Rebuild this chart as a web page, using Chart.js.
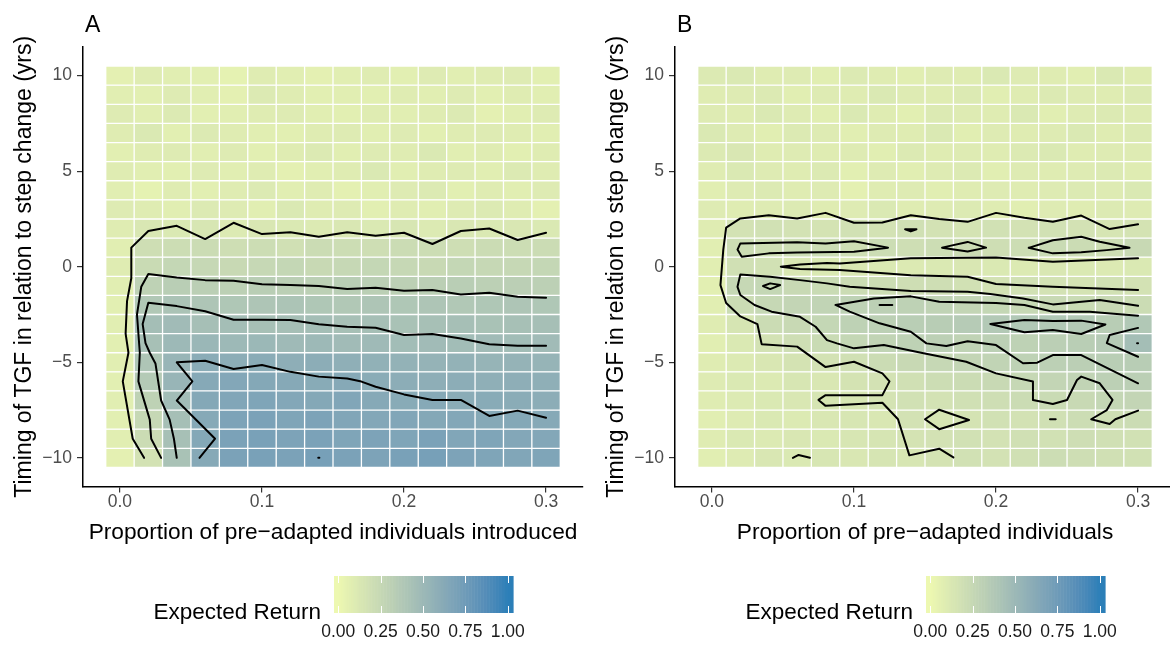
<!DOCTYPE html>
<html>
<head>
<meta charset="utf-8">
<script src="https://cdn.jsdelivr.net/npm/chart.js@4"></script>
<style>
  html, body { margin: 0; padding: 0; background: #fff; overflow: hidden; }
  body { width: 1170px; height: 648px; position: relative; }
  canvas { position: absolute; top: 0; }
  #chartA { left: 0; }
  #chartB { left: 592px; }
</style>
</head>
<body>
<canvas id="chartA" width="590" height="648"></canvas>
<canvas id="chartB" width="590" height="648"></canvas>
<script>
// Expected return heatmaps with contour lines

// tile centres
const proportions = [0, 0.02, 0.04, 0.06, 0.08, 0.1, 0.12, 0.14, 0.16, 0.18, 0.2, 0.22, 0.24, 0.26, 0.28, 0.3];
const timings = [10, 9, 8, 7, 6, 5, 4, 3, 2, 1, 0, -1, -2, -3, -4, -5, -6, -7, -8, -9, -10];

// expected return, one row per timing (top to bottom), one value per proportion
const returnA = [
  [.06, .09, .08, .07, .05, .09, .08, .06, .08, .09, .07, .10, .08, .09, .10, .07],
  [.08, .07, .10, .08, .06, .11, .09, .07, .08, .07, .09, .08, .10, .07, .09, .08],
  [.10, .08, .11, .07, .08, .09, .10, .08, .07, .09, .08, .09, .11, .06, .08, .10],
  [.09, .12, .07, .11, .09, .08, .07, .09, .10, .08, .10, .07, .09, .10, .09, .08],
  [.07, .09, .10, .08, .10, .07, .09, .11, .08, .10, .09, .12, .08, .09, .07, .09],
  [.09, .08, .07, .10, .08, .09, .06, .08, .09, .12, .08, .09, .10, .08, .11, .09],
  [.08, .05, .09, .07, .09, .11, .08, .09, .06, .08, .10, .11, .07, .09, .08, .10],
  [.10, .09, .08, .11, .10, .08, .12, .09, .10, .07, .09, .08, .10, .11, .09, .06],
  [.09, .13, .12, .14, .11, .13, .12, .11, .13, .12, .14, .11, .13, .12, .13, .12],
  [.08, .20, .21, .22, .20, .21, .19, .22, .21, .20, .22, .21, .20, .22, .21, .22],
  [.09, .23, .26, .25, .24, .25, .26, .24, .25, .26, .25, .24, .26, .25, .25, .26],
  [.08, .30, .33, .32, .31, .33, .32, .31, .33, .32, .31, .32, .33, .31, .32, .31],
  [.07, .38, .42, .40, .39, .40, .41, .39, .38, .40, .39, .40, .38, .39, .40, .39],
  [.08, .46, .48, .45, .46, .44, .45, .46, .44, .45, .43, .44, .45, .43, .44, .45],
  [.07, .44, .50, .52, .50, .51, .49, .50, .48, .49, .47, .48, .47, .48, .47, .48],
  [.08, .40, .53, .61, .60, .61, .59, .60, .58, .57, .56, .55, .56, .54, .55, .54],
  [.07, .36, .53, .63, .65, .64, .63, .62, .63, .61, .60, .59, .60, .58, .59, .58],
  [.08, .30, .47, .64, .66, .67, .65, .64, .66, .63, .62, .63, .61, .62, .61, .60],
  [.07, .25, .45, .63, .68, .69, .67, .68, .66, .65, .66, .64, .65, .63, .64, .63],
  [.08, .22, .44, .64, .69, .70, .68, .69, .67, .68, .67, .69, .66, .67, .65, .65],
  [.06, .17, .43, .63, .69, .70, .69, .71, .69, .68, .70, .71, .68, .67, .66, .67]
];

const returnB = [
  [.11, .12, .09, .10, .08, .11, .09, .08, .10, .09, .12, .10, .09, .08, .12, .09],
  [.09, .10, .11, .08, .10, .09, .12, .10, .09, .11, .08, .09, .11, .10, .09, .11],
  [.10, .09, .12, .10, .08, .12, .09, .07, .11, .10, .09, .12, .08, .10, .11, .10],
  [.12, .10, .08, .11, .10, .08, .10, .09, .12, .08, .10, .09, .10, .12, .09, .11],
  [.11, .13, .09, .10, .09, .10, .08, .11, .09, .10, .09, .11, .12, .09, .10, .10],
  [.09, .12, .10, .09, .11, .07, .10, .08, .10, .11, .08, .10, .09, .10, .11, .09],
  [.08, .10, .11, .09, .10, .06, .09, .10, .08, .09, .10, .09, .10, .11, .10, .12],
  [.10, .09, .10, .11, .09, .10, .12, .09, .10, .11, .09, .08, .10, .09, .11, .10],
  [.09, .17, .18, .17, .16, .18, .17, .19, .17, .16, .18, .17, .18, .17, .15, .16],
  [.08, .21, .20, .21, .22, .20, .21, .20, .21, .22, .20, .21, .23, .22, .20, .24],
  [.08, .19, .18, .13, .12, .13, .12, .11, .12, .13, .12, .11, .13, .12, .11, .12],
  [.07, .25, .26, .24, .23, .22, .21, .20, .20, .18, .17, .18, .17, .16, .18, .17],
  [.08, .22, .25, .27, .28, .30, .31, .30, .29, .27, .26, .25, .24, .23, .24, .22],
  [.09, .15, .22, .24, .26, .30, .31, .33, .34, .35, .37, .38, .38, .37, .34, .38],
  [.08, .12, .17, .20, .23, .26, .28, .30, .31, .29, .31, .30, .32, .33, .35, .46],
  [.09, .11, .13, .16, .17, .19, .22, .24, .25, .27, .28, .30, .31, .32, .33, .34],
  [.10, .12, .11, .14, .13, .16, .17, .19, .21, .22, .24, .25, .27, .28, .31, .32],
  [.09, .11, .12, .13, .15, .14, .16, .18, .17, .19, .20, .22, .23, .24, .26, .27],
  [.08, .10, .12, .11, .13, .14, .13, .17, .15, .16, .18, .17, .19, .21, .20, .22],
  [.09, .12, .11, .13, .12, .14, .15, .16, .17, .18, .17, .19, .18, .20, .19, .18],
  [.08, .10, .13, .12, .14, .13, .15, .14, .16, .18, .17, .19, .21, .20, .19, .18]
];

// contour polylines, [proportion, timing]
const contoursA = [
  [[0.017, -10], [0.009, -9], [0.002, -6], [0.006, -4.5], [0.004, -3.5], [0.005, -1.8], [0.008, -0.6], [0.008, 0], [0.008, 1],
   [0.02, 1.87], [0.04, 2.14], [0.06, 1.45], [0.08, 2.3], [0.1, 1.71], [0.12, 1.81], [0.14, 1.57], [0.16, 1.8], [0.18, 1.62],
   [0.2, 1.78], [0.22, 1.19], [0.24, 1.87], [0.26, 2.0], [0.28, 1.4], [0.3, 1.78]],
  [[0.029, -10], [0.022, -9], [0.021, -8], [0.013, -6], [0.014, -4.5], [0.012, -2.5], [0.015, -1.05], [0.02, -0.38],
   [0.04, -0.56], [0.06, -0.7], [0.08, -0.73], [0.1, -0.92], [0.12, -0.96], [0.14, -1.01], [0.16, -1.17], [0.18, -1.1],
   [0.2, -1.25], [0.22, -1.22], [0.24, -1.45], [0.26, -1.36], [0.28, -1.57], [0.3, -1.62]],
  [[0.04, -10], [0.038, -9], [0.035, -8], [0.029, -7], [0.025, -5.06], [0.021, -4.5], [0.018, -4], [0.016, -3], [0.02, -1.88],
   [0.04, -2.06], [0.06, -2.33], [0.08, -2.77], [0.1, -2.77], [0.12, -2.79], [0.14, -3.01], [0.16, -3.14], [0.18, -3.19],
   [0.2, -3.57], [0.22, -3.52], [0.24, -3.75], [0.26, -4.06], [0.28, -4.14], [0.3, -4.14]],
  [[0.056, -10], [0.067, -9], [0.04, -7], [0.051, -6], [0.04, -5], [0.06, -4.92], [0.08, -5.35], [0.1, -5.14], [0.12, -5.5],
   [0.14, -5.75], [0.16, -5.85], [0.17, -6.01], [0.18, -6.28], [0.2, -6.68], [0.22, -6.97], [0.24, -6.97], [0.26, -7.81],
   [0.28, -7.53], [0.3, -7.9]],
  [[0.1396, -10], [0.1404, -10]]
];

const contoursB = [
  [[0.3, 2.22], [0.28, 1.97], [0.26, 2.68], [0.24, 2.35], [0.22, 2.56], [0.2, 2.82], [0.18, 2.35], [0.16, 2.5], [0.14, 2.7],
   [0.12, 2.32], [0.1, 2.3], [0.08, 2.82], [0.06, 2.53], [0.04, 2.7], [0.02, 2.53], [0.01, 2.05], [0.008, 0.9], [0.006, -0.96],
   [0.01, -1.9], [0.02, -2.6], [0.032, -3.0], [0.035, -4.05], [0.06, -4.18], [0.08, -5.25], [0.1, -4.97], [0.12, -5.58],
   [0.125, -6.0], [0.12, -6.72], [0.08, -6.72], [0.075, -6.97], [0.08, -7.28], [0.12, -7.12], [0.131, -7.98], [0.139, -9.87],
   [0.16, -9.52], [0.17, -9.98]],
  [[0.02, 1.22], [0.06, 1.28], [0.08, 1.22], [0.1, 1.33], [0.124, 1.0], [0.1, 0.78], [0.06, 0.75], [0.04, 0.7], [0.021, 0.52],
   [0.018, 0.9], [0.02, 1.22]],
  [[0.162, 1.0], [0.18, 1.3], [0.193, 1.0], [0.18, 0.8], [0.162, 1.0]],
  [[0.223, 0.99], [0.24, 1.39], [0.26, 1.57], [0.273, 1.31], [0.294, 0.99], [0.278, 0.87], [0.26, 0.76], [0.24, 0.7], [0.223, 0.99]],
  [[0.136, 1.96], [0.144, 1.96], [0.14, 1.85], [0.136, 1.96]],
  [[0.3, 0.44], [0.24, 0.26], [0.2, 0.48], [0.14, 0.44], [0.09, 0.17], [0.081, 0.2], [0.062, 0.12], [0.0485, 0], [0.062, -0.12],
   [0.09, -0.17], [0.14, -0.44], [0.18, -0.52], [0.2, -0.9], [0.24, -1.05], [0.3, -1.22]],
  [[0.036, -1.01], [0.041, -0.87], [0.048, -0.96], [0.041, -1.17], [0.036, -1.01]],
  [[0.3, -2.04], [0.273, -1.74], [0.24, -1.97], [0.219, -1.66], [0.196, -1.43], [0.18, -1.31], [0.14, -1.27], [0.097, -1.05],
   [0.081, -0.87], [0.062, -0.7], [0.041, -0.52], [0.02, -0.4], [0.018, -1.05], [0.02, -1.48], [0.03, -2.0], [0.042, -2.35],
   [0.062, -2.62], [0.073, -3.14], [0.081, -3.84], [0.088, -4.01], [0.1, -4.27], [0.121, -4.1], [0.149, -4.53], [0.179, -4.97],
   [0.2, -5.58], [0.226, -6.01], [0.226, -6.97], [0.24, -7.18], [0.25, -6.97], [0.257, -5.93], [0.26, -5.75], [0.273, -6.1],
   [0.282, -6.97], [0.278, -7.5], [0.267, -7.98], [0.28, -8.23], [0.284, -7.98], [0.3, -7.53]],
  [[0.3, -2.56], [0.266, -2.35], [0.24, -2.35], [0.22, -2.0], [0.2, -1.9], [0.16, -1.83], [0.14, -1.55], [0.114, -1.66],
   [0.087, -2.0], [0.097, -2.35], [0.118, -2.96], [0.14, -3.4], [0.151, -4.01], [0.165, -4.15], [0.18, -3.9], [0.2, -4.1],
   [0.219, -5.05], [0.229, -5.02], [0.24, -4.62], [0.26, -4.62], [0.3, -6.1]],
  [[0.118, -2.0], [0.127, -2.0]],
  [[0.196, -3.0], [0.22, -2.79], [0.24, -2.84], [0.26, -2.82], [0.277, -3.02], [0.26, -3.52], [0.24, -3.31], [0.22, -3.43], [0.196, -3.0]],
  [[0.3, -3.2], [0.28, -3.57], [0.278, -4.0], [0.3, -4.71]],
  [[0.2993, -4.0], [0.3, -4.0]],
  [[0.15, -7.98], [0.16, -7.48], [0.181, -8.02], [0.16, -8.5], [0.15, -7.98]],
  [[0.238, -7.98], [0.242, -7.98]],
  [[0.057, -10], [0.061, -9.85], [0.069, -10]]
];

const xTicks = [0, 0.1, 0.2, 0.3];
const xTickLabels = ['0.0', '0.1', '0.2', '0.3'];
const yTicks = [10, 5, 0, -5, -10];
const yTickLabels = ['10', '5', '0', '\u22125', '\u221210'];
const legendBreaks = [0, 0.25, 0.5, 0.75, 1];
const legendLabels = ['0.00', '0.25', '0.50', '0.75', '1.00'];

// colour scale, interpolated in Lab like ggplot's gradient
const lowColour = [237, 248, 177];
const highColour = [44, 127, 184];
const WHITE = [0.95047, 1, 1.08883];

function toLinear(c) {
  c /= 255;
  return c <= 0.04045 ? c / 12.92 : Math.pow((c + 0.055) / 1.055, 2.4);
}
function fromLinear(c) {
  const v = c <= 0.0031308 ? 12.92 * c : 1.055 * Math.pow(c, 1 / 2.4) - 0.055;
  return Math.round(Math.min(1, Math.max(0, v)) * 255);
}
function toLab(rgb) {
  const [R, G, B] = rgb.map(toLinear);
  const X = (0.4124 * R + 0.3576 * G + 0.1805 * B) / WHITE[0];
  const Y = (0.2126 * R + 0.7152 * G + 0.0722 * B) / WHITE[1];
  const Z = (0.0193 * R + 0.1192 * G + 0.9505 * B) / WHITE[2];
  const f = t => t > 0.008856 ? Math.cbrt(t) : 7.787 * t + 16 / 116;
  return [116 * f(Y) - 16, 500 * (f(X) - f(Y)), 200 * (f(Y) - f(Z))];
}
function labToCss(lab) {
  const fy = (lab[0] + 16) / 116, fx = fy + lab[1] / 500, fz = fy - lab[2] / 200;
  const inv = t => t * t * t > 0.008856 ? t * t * t : (t - 16 / 116) / 7.787;
  const X = inv(fx) * WHITE[0], Y = inv(fy) * WHITE[1], Z = inv(fz) * WHITE[2];
  const R = 3.2406 * X - 1.5372 * Y - 0.4986 * Z;
  const G = -0.9689 * X + 1.8758 * Y + 0.0415 * Z;
  const B = 0.0557 * X - 0.2040 * Y + 1.0570 * Z;
  return 'rgb(' + fromLinear(R) + ',' + fromLinear(G) + ',' + fromLinear(B) + ')';
}
const lowLab = toLab(lowColour), highLab = toLab(highColour);
function fillColour(v) {
  const t = Math.min(1, Math.max(0, v));
  return labToCss(lowLab.map((l, i) => l + (highLab[i] - l) * t));
}

Chart.defaults.font.family = '"Liberation Sans", Arial, Helvetica, sans-serif';

// panel letter and colourbar legend
const decorPlugin = {
  id: 'decor',
  afterDraw(chart, args, opts) {
    const ctx = chart.ctx;
    ctx.save();
    ctx.fillStyle = '#000';
    ctx.font = '23px "Liberation Sans", Arial, sans-serif';
    ctx.textAlign = 'left';
    ctx.textBaseline = 'alphabetic';
    ctx.fillText(opts.letter, 85, 31.5);

    // colourbar
    const barL = 334, barR = 513, barT = 576, barB = 613;
    const v0 = 338.3, v1 = 507.7;
    const steps = 120;
    for (let i = 0; i < steps; i++) {
      const x = barL + (barR - barL) * i / steps;
      const w = (barR - barL) / steps + 0.6;
      const v = (x + w / 2 - v0) / (v1 - v0);
      ctx.fillStyle = fillColour(v);
      ctx.fillRect(x, barT, w, barB - barT);
    }
    ctx.strokeStyle = '#fff';
    ctx.lineWidth = 1;
    legendBreaks.forEach(b => {
      const x = Math.round(v0 + b * (v1 - v0)) + 0.5;
      ctx.beginPath();
      ctx.moveTo(x, barT); ctx.lineTo(x, barT + 7);
      ctx.moveTo(x, barB); ctx.lineTo(x, barB - 7);
      ctx.stroke();
    });
    ctx.fillStyle = '#1a1a1a';
    ctx.font = '17.5px "Liberation Sans", Arial, sans-serif';
    ctx.textAlign = 'center';
    ctx.textBaseline = 'middle';
    legendBreaks.forEach((b, i) => {
      ctx.fillText(legendLabels[i], v0 + b * (v1 - v0), 632);
    });
    ctx.fillStyle = '#000';
    ctx.font = '22.5px "Liberation Sans", Arial, sans-serif';
    ctx.textAlign = 'right';
    ctx.textBaseline = 'alphabetic';
    ctx.fillText('Expected Return', 321, 618.5);
    ctx.restore();
  }
};

function makeChart(id, letter, xTitle, values, contours) {
  const cells = [];
  const colours = [];
  timings.forEach((t, r) => {
    proportions.forEach((p, c) => {
      cells.push({ x: p, y: [t - 0.5, t + 0.5], v: values[r][c] });
      colours.push(fillColour(values[r][c]));
    });
  });

  const datasets = [{
    type: 'bar',
    data: cells,
    backgroundColor: colours,
    borderColor: '#ffffff',
    borderWidth: 0.65,
    borderSkipped: false,
    inflateAmount: 0,
    grouped: false,
    barPercentage: 1,
    categoryPercentage: 1,
    order: 1
  }];
  contours.forEach(line => {
    datasets.push({
      type: 'line',
      data: line.map(pt => ({ x: pt[0], y: pt[1] })),
      borderColor: '#000',
      borderWidth: 2,
      borderJoinStyle: 'round',
      borderCapStyle: 'round',
      pointRadius: 0,
      fill: false,
      tension: 0,
      order: 0
    });
  });

  return new Chart(document.getElementById(id), {
    type: 'bar',
    data: { datasets },
    plugins: [decorPlugin],
    options: {
      responsive: false,
      animation: false,
      events: [],
      layout: { padding: { left: 0, right: 7, top: 47, bottom: 101.5 } },
      plugins: {
        legend: { display: false },
        tooltip: { enabled: false },
        decor: { letter }
      },
      scales: {
        x: {
          type: 'linear',
          min: -0.026,
          max: 0.326,
          offset: false,
          afterBuildTicks: s => { s.ticks = xTicks.map(v => ({ value: v })); },
          afterFit: s => { s.height = 60; },
          ticks: {
            color: '#4d4d4d',
            font: { size: 17.5, lineHeight: 1 },
            padding: 1,
            maxRotation: 0,
            autoSkip: false,
            callback: v => xTickLabels[xTicks.indexOf(v)]
          },
          grid: { drawOnChartArea: false, drawTicks: true, tickLength: 6, color: '#333', lineWidth: 1.2, offset: false },
          border: { display: true, color: '#000', width: 1.5 },
          title: { display: true, text: xTitle, color: '#000', font: { size: 22.7 }, padding: { top: 0, bottom: 0 } }
        },
        y: {
          type: 'linear',
          min: -11.5,
          max: 11.5,
          afterBuildTicks: s => { s.ticks = yTicks.map(v => ({ value: v })); },
          afterFit: s => { s.width = 83; },
          ticks: {
            color: '#4d4d4d',
            font: { size: 17.5 },
            padding: 5,
            autoSkip: false,
            callback: v => yTickLabels[yTicks.indexOf(v)]
          },
          grid: { drawOnChartArea: false, drawTicks: true, tickLength: 6, color: '#333', lineWidth: 1.2 },
          border: { display: true, color: '#000', width: 1.5 },
          title: {
            display: true,
            text: 'Timing of TGF in relation to step change (yrs)',
            color: '#000',
            font: { size: 23 },
            padding: { top: 11, bottom: 0 }
          }
        }
      }
    }
  });
}

makeChart('chartA', 'A', 'Proportion of pre\u2212adapted individuals introduced', returnA, contoursA);
makeChart('chartB', 'B', 'Proportion of pre\u2212adapted individuals', returnB, contoursB);
</script>
</body>
</html>
